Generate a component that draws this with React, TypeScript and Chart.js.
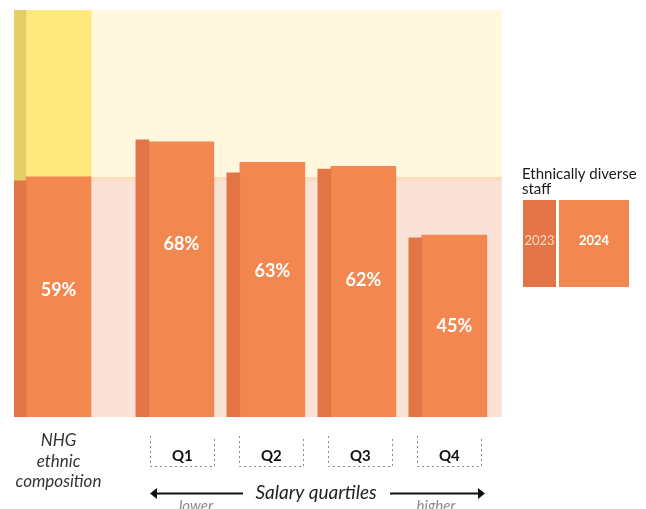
import React, { useEffect, useRef } from "react";
import { Chart, registerables } from "chart.js";

Chart.register(...registerables);

// ---- data ----
const categories = ["NHG", "Q1", "Q2", "Q3", "Q4"];
const nhgLabelLines = ["NHG", "ethnic", "composition"];
const staff2023 = [58, 68.1, 60, 60.9, 44];
const staff2024 = [59, 67.6, 62.6, 61.6, 44.7];
const seriesNames = ["2023", "2024"];
const legendTitle = ["Ethnically diverse", "staff"];
const axisTitle = "Salary quartiles";
const lowText = "lower";
const highText = "higher";

// ---- layout ----
const W = 646;
const H = 509;
const slots = [0, 1.35, 2.35, 3.35, 4.35];
const labelAt = [31.2, 42.4, 35.9, 33.7, 22.4];
const FONT = "Lato, 'Open Sans', sans-serif";

const C23 = "#E27445";
const C24 = "#F2884F";
const Y23 = "#E4CF66";
const Y24 = "#FDE97C";
const BG_TOP = "#FFF8DF";
const BG_BAND = "#FCDDBA";
const BG_LOW = "#FAE2D6";

const bgPlugin = {
  id: "bgBands",
  beforeDatasetsDraw(chart: any) {
    const { ctx, chartArea: a, scales } = chart;
    const y = scales.y;
    const top = y.getPixelForValue(100);
    const p24 = y.getPixelForValue(staff2024[0]);
    const p23 = y.getPixelForValue(staff2023[0]);
    const p0 = y.getPixelForValue(0);
    const w = a.right - a.left;
    ctx.save();
    ctx.fillStyle = BG_TOP;
    ctx.fillRect(a.left, top, w, p24 - top);
    ctx.fillStyle = BG_BAND;
    ctx.fillRect(a.left, p24, w, p23 - p24);
    ctx.fillStyle = BG_LOW;
    ctx.fillRect(a.left, p23, w, p0 - p23);
    ctx.restore();
  },
};

const textPlugin = {
  id: "texts",
  afterDraw(chart: any) {
    const { ctx, chartArea: a, scales } = chart;
    const y = scales.y;
    const meta24 = chart.getDatasetMeta(1);
    const bottom = a.bottom;
    ctx.save();
    ctx.textAlign = "center";
    ctx.textBaseline = "middle";

    // value labels
    ctx.fillStyle = "#FFFFFF";
    ctx.font = `bold 18px ${FONT}`;
    staff2024.forEach((v, i) => {
      const bar = meta24.data[i];
      ctx.fillText(`${Math.round(v)}%`, bar.x, y.getPixelForValue(labelAt[i]));
    });

    // NHG label
    const nhgX = meta24.data[0].x;
    ctx.fillStyle = "#333333";
    ctx.font = `italic 17px ${FONT}`;
    nhgLabelLines.forEach((t, k) => {
      ctx.fillText(t, nhgX, bottom + 24 + k * 20.5);
    });

    // quartile labels with dotted boxes
    for (let i = 1; i < categories.length; i++) {
      const cx = 5 + 0.978 * meta24.data[i].x;
      const l = cx - 32;
      const r = cx + 32;
      const t = bottom + 19;
      const b = bottom + 49;
      ctx.strokeStyle = "#8A8A8A";
      ctx.lineWidth = 1;
      ctx.setLineDash([2, 3]);
      ctx.beginPath();
      ctx.moveTo(Math.round(l) + 0.5, t);
      ctx.lineTo(Math.round(l) + 0.5, b + 0.5);
      ctx.lineTo(Math.round(r) + 0.5, b + 0.5);
      ctx.lineTo(Math.round(r) + 0.5, t);
      ctx.stroke();
      ctx.setLineDash([]);
      ctx.fillStyle = "#111111";
      ctx.font = `bold 15px ${FONT}`;
      ctx.fillText(categories[i], cx, bottom + 39);
    }

    // axis title with arrows
    const ay = bottom + 76;
    ctx.fillStyle = "#222222";
    ctx.font = `italic 19px ${FONT}`;
    ctx.fillText(axisTitle, 316, ay);
    ctx.strokeStyle = "#111111";
    ctx.lineWidth = 2;
    ctx.beginPath();
    ctx.moveTo(155, ay + 0.5);
    ctx.lineTo(243, ay + 0.5);
    ctx.moveTo(390, ay + 0.5);
    ctx.lineTo(479, ay + 0.5);
    ctx.stroke();
    ctx.fillStyle = "#111111";
    ctx.beginPath();
    ctx.moveTo(150, ay + 0.5);
    ctx.lineTo(157, ay - 5);
    ctx.lineTo(157, ay + 6);
    ctx.closePath();
    ctx.fill();
    ctx.beginPath();
    ctx.moveTo(485, ay + 0.5);
    ctx.lineTo(478, ay - 5);
    ctx.lineTo(478, ay + 6);
    ctx.closePath();
    ctx.fill();
    ctx.fillStyle = "#8A8A8A";
    ctx.font = `italic 15px ${FONT}`;
    ctx.textBaseline = "alphabetic";
    ctx.fillText(lowText, 196, bottom + 94);
    ctx.fillText(highText, 436, bottom + 94);

    // legend
    ctx.textAlign = "left";
    ctx.textBaseline = "middle";
    ctx.fillStyle = "#1A1A1A";
    ctx.font = `15px ${FONT}`;
    ctx.fillText(legendTitle[0], 522, 174);
    ctx.fillText(legendTitle[1], 522, 189);
    ctx.fillStyle = C23;
    ctx.fillRect(523, 200, 33, 87);
    ctx.fillStyle = C24;
    ctx.fillRect(559, 200, 70, 87);
    ctx.textAlign = "center";
    ctx.font = `13px ${FONT}`;
    ctx.fillStyle = "#FBD9C6";
    ctx.fillText(seriesNames[0], 539.5, 241);
    ctx.font = `bold 13px ${FONT}`;
    ctx.fillStyle = "#FFFFFF";
    ctx.fillText(seriesNames[1], 594, 241);
    ctx.restore();
  },
};

export default function App() {
  const ref = useRef<HTMLCanvasElement | null>(null);

  useEffect(() => {
    if (!ref.current) return;
    const pts = (vals: number[]) => vals.map((v, i) => ({ x: slots[i], y: v }));
    const chart = new Chart(ref.current, {
      type: "bar",
      data: {
        datasets: [
          {
            label: seriesNames[0],
            data: pts(staff2023),
            stack: "a",
            barThickness: 13,
            backgroundColor: C23,
            borderWidth: 0,
          },
          {
            label: seriesNames[1],
            data: pts(staff2024),
            stack: "b",
            barThickness: 65,
            backgroundColor: C24,
            borderWidth: 0,
          },
          {
            label: "rest 2023",
            data: [{ x: slots[0], y: 100 - staff2023[0] }],
            stack: "a",
            barThickness: 13,
            backgroundColor: Y23,
            borderWidth: 0,
          },
          {
            label: "rest 2024",
            data: [{ x: slots[0], y: 100 - staff2024[0] }],
            stack: "b",
            barThickness: 65,
            backgroundColor: Y24,
            borderWidth: 0,
          },
        ],
      } as any,
      options: {
        animation: false,
        responsive: false,
        maintainAspectRatio: false,
        layout: { padding: { left: 14, top: 10, right: 144, bottom: 92 } },
        plugins: { legend: { display: false }, tooltip: { enabled: false } },
        scales: {
          x: { type: "linear", display: false, min: -0.132, max: 5.231, offset: false },
          y: { display: false, min: 0, max: 100, stacked: true },
        },
      } as any,
      plugins: [bgPlugin, textPlugin],
    });
    return () => chart.destroy();
  }, []);

  return (
    <div style={{ position: "absolute", left: 0, top: 0, width: W, height: H, background: "#fff" }}>
      <canvas ref={ref} width={W} height={H} style={{ display: "block", width: W, height: H }} />
    </div>
  );
}
